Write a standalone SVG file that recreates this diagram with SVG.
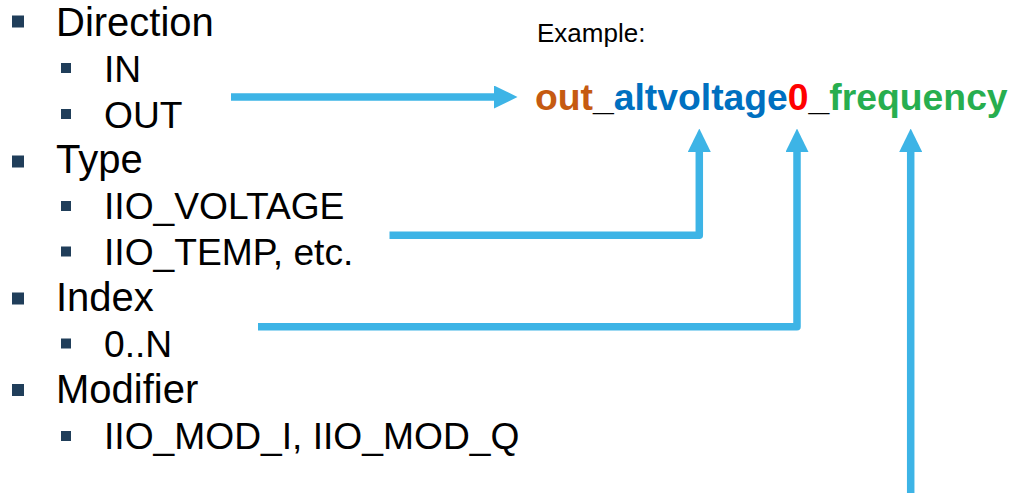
<svg xmlns="http://www.w3.org/2000/svg" width="1013" height="493" viewBox="0 0 1013 493">
  <style>
    .l1 { font-family: "Liberation Sans", Arial, sans-serif; font-size: 40px; fill: #000; }
    .l2 { font-family: "Liberation Sans", Arial, sans-serif; font-size: 37.2px; fill: #000; }
    .b1 { fill: #203E5A; }
    .b2 { fill: #203E5A; }
    .ex { font-family: "Liberation Sans", Arial, sans-serif; font-size: 26px; fill: #000; }
    .name { font-family: "Liberation Sans", Arial, sans-serif; font-size: 37.3px; font-weight: bold; }
    .dir { fill: #C55A11; }
    .typ { fill: #0070C0; }
    .idx { fill: #FF0000; }
    .mod { fill: #27AE4F; }
    .sep { fill: #000; }
    .wire { fill: none; stroke: #3DB4E6; stroke-width: 7.5; stroke-linejoin: round; }
  </style>
  <defs>
    <marker id="head" viewBox="0 0 23.5 23" refX="0" refY="11.5" markerWidth="23.5" markerHeight="23" markerUnits="userSpaceOnUse" orient="auto">
      <path d="M0,0 L23.5,11.5 L0,23 Z" fill="#3DB4E6"/>
    </marker>
  </defs>
  <rect width="1013" height="493" fill="#fff"/>

  <!-- Direction -->
  <g id="direction">
    <rect class="b1" x="12" y="15.5" width="12" height="12"/>
    <text class="l1" x="56" y="36">Direction</text>
    <rect class="b2" x="61" y="63" width="10" height="10"/>
    <text class="l2" x="104" y="82">IN</text>
    <rect class="b2" x="61" y="109" width="10" height="10"/>
    <text class="l2" x="104" y="127.5">OUT</text>
  </g>

  <!-- Type -->
  <g id="type">
    <rect class="b1" x="12" y="155.5" width="12" height="12"/>
    <text class="l1" x="56" y="173">Type</text>
    <rect class="b2" x="61" y="201" width="10" height="10"/>
    <text class="l2" x="104" y="219">IIO_VOLTAGE</text>
    <rect class="b2" x="61" y="246.5" width="10" height="10"/>
    <text class="l2" x="104" y="265">IIO_TEMP, etc.</text>
  </g>

  <!-- Index -->
  <g id="index">
    <rect class="b1" x="12" y="292.5" width="12" height="12"/>
    <text class="l1" x="56" y="311">Index</text>
    <rect class="b2" x="61" y="338.5" width="10" height="10"/>
    <text class="l2" x="104" y="357">0..N</text>
  </g>

  <!-- Modifier -->
  <g id="modifier">
    <rect class="b1" x="12" y="384" width="12" height="12"/>
    <text class="l1" x="56" y="403">Modifier</text>
    <rect class="b2" x="61" y="431" width="10" height="10"/>
    <text class="l2" x="104" y="449">IIO_MOD_I, IIO_MOD_Q</text>
  </g>

  <!-- Example channel name -->
  <g id="example">
    <text class="ex" x="537" y="42">Example:</text>
    <text class="name" x="535" y="110"><tspan class="dir">out</tspan><tspan class="sep">_</tspan><tspan class="typ">altvoltage</tspan><tspan class="idx">0</tspan><tspan class="sep">_</tspan><tspan class="mod">frequency</tspan></text>
  </g>

  <!-- Connectors -->
  <g id="connectors">
    <path class="wire" d="M231,97 H494" marker-end="url(#head)"/>
    <path class="wire" d="M389.5,235.2 H699.3 V152" marker-end="url(#head)"/>
    <path class="wire" d="M258,326.7 H797 V152" marker-end="url(#head)"/>
    <path class="wire" d="M910.7,493 V152" marker-end="url(#head)"/>
  </g>
</svg>
